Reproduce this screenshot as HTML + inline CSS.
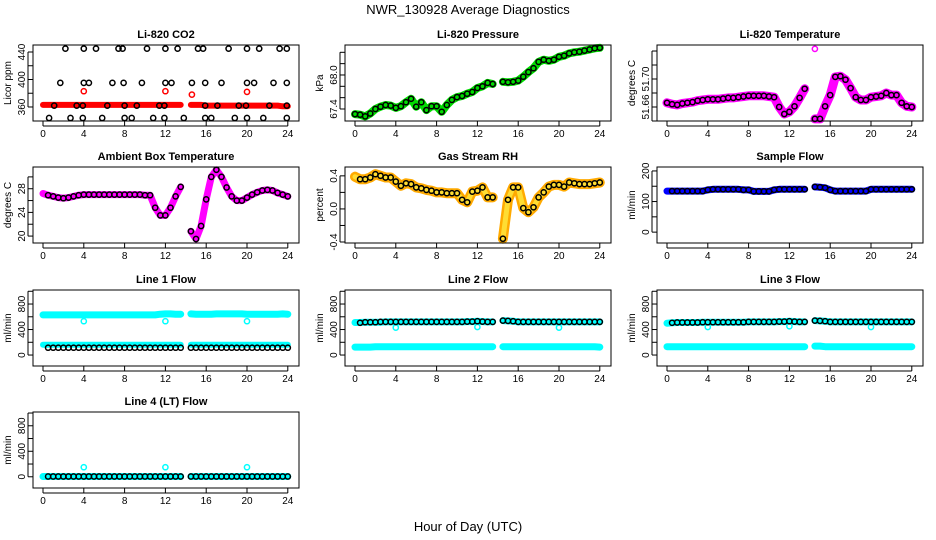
<!DOCTYPE html>
<html><head><meta charset="utf-8"><style>
html,body{margin:0;padding:0;background:#fff}
svg{display:block;font-family:"Liberation Sans",sans-serif}
</style></head><body>
<svg id="chart" width="936" height="540" viewBox="0 0 936 540" xmlns="http://www.w3.org/2000/svg">
<text x="468" y="14" text-anchor="middle" font-size="13">NWR_130928  Average Diagnostics</text>
<text x="468" y="531" text-anchor="middle" font-size="13">Hour of Day (UTC)</text>
</svg>
<script>
const H=[0,0.5,1,1.5,2,2.5,3,3.5,4,4.5,5,5.5,6,6.5,7,7.5,8,8.5,9,9.5,10,10.5,11,11.5,12,12.5,13,13.5,14,14.5,15,15.5,16,16.5,17,17.5,18,18.5,19,19.5,20,20.5,21,21.5,22,22.5,23,23.5,24];
const xTicks=[0,4,8,12,16,20,24];
// CO2
const co2Red=[363,363,363,363,363,363,363,363,363,363,363,363,363,363,363,363,363,363,363,363,363,363,363,363,363,363,363,363,null,363,363,363,362,362,362,362,362,362,362,362,362,362,362,362,362,362,362,361,361];
const co2RedOutH=[4,12,14.6,20];
const co2RedOutV=[383,383,378,382];
const co2BlkH=[2.2,4.0,5.2,7.4,7.8,10.2,12.0,13.2,15.2,15.7,18.2,20.0,21.2,23.2,23.9, 1.7,4.0,4.5,6.8,7.9,9.7,12.0,12.6,14.6,15.9,17.5,20.0,20.7,22.6,23.9, 1.1,3.3,3.9,6.3,8.0,9.2,11.4,11.9,15.9,17.1,19.2,19.9,22.2,23.9, 0.6,2.7,3.9,5.8,8.0,8.7,10.8,11.9,13.8,15.9,16.5,18.8,20.0,21.6,23.9];
const co2BlkV=[445,445,445,445,445,445,445,445,445,445,445,445,445,445,445, 395,395,395,395,395,395,395,395,395,395,395,395,395,395,395, 362,362,362,362,362,362,362,362,362,362,362,362,362,362, 344,344,344,344,344,344,344,344,344,344,344,344,344,344,344];
// Pressure
const pres=[67.31,67.30,67.27,67.32,67.40,67.44,67.47,67.46,67.42,67.45,67.52,67.58,67.44,67.52,67.38,67.45,67.45,67.35,67.47,67.56,67.61,67.63,67.67,67.70,67.77,67.80,67.86,67.84,null,67.88,67.87,67.88,67.90,67.97,68.05,68.12,68.23,68.27,68.25,68.27,68.32,68.34,68.38,68.40,68.41,68.43,68.45,68.47,68.48];
// Li-820 temperature
const ltemp=[51.666,51.664,51.663,51.665,51.666,51.667,51.669,51.670,51.671,51.671,51.671,51.672,51.673,51.673,51.674,51.675,51.676,51.676,51.676,51.676,51.675,51.674,51.660,51.650,51.653,51.661,51.673,51.686,null,51.643,51.643,51.661,51.677,51.703,51.704,51.699,51.687,51.674,51.670,51.670,51.674,51.675,51.676,51.680,51.677,51.677,51.666,51.661,51.660];
const ltempOutH=[14.5];
const ltempOutV=[51.743];
// Ambient box temperature
const amb=[27.2,26.9,26.7,26.5,26.4,26.5,26.7,26.9,27.0,27.0,27.0,27.0,27.0,27.0,27.0,27.0,27.0,27.0,27.0,27.0,26.9,26.9,24.8,23.5,23.5,24.8,26.7,28.3,null,20.8,19.5,21.7,26.2,30.0,31.2,30.0,28.2,26.7,26.0,26.0,26.5,27.0,27.4,27.7,27.8,27.7,27.3,27.0,26.7];
// Gas stream RH
const rh=[0.39,0.36,0.36,0.38,0.42,0.40,0.38,0.38,0.33,0.28,0.31,0.30,0.26,0.25,0.23,0.22,0.20,0.20,0.19,0.19,0.19,0.11,0.08,0.21,0.22,0.26,0.14,0.14,null,-0.36,0.11,0.26,0.26,0.01,-0.04,0.02,0.14,0.20,0.27,0.29,0.29,0.27,0.32,0.31,0.30,0.30,0.30,0.31,0.32];
// Sample flow
const samp=[134,134,134,134,134,134,134,134,138,140,140,140,140,140,140,138,138,133,133,133,133,138,140,140,140,140,140,140,null,148,147,145,138,134,134,134,134,134,134,134,140,140,140,140,140,140,140,140,140];
// Line flows
const l1Hi=[630,630,630,630,630,630,630,630,630,630,630,630,630,630,630,630,630,630,630,630,630,630,630,640,645,645,640,640,null,645,640,640,640,640,645,645,645,645,645,645,640,640,640,640,640,640,640,645,640];
const l1Lo=[160,160,160,160,160,160,160,160,160,160,160,160,160,160,160,160,160,160,160,160,160,160,160,160,160,160,160,160,null,160,160,160,160,160,160,160,160,160,160,160,160,160,160,160,160,160,160,160,160];
const l1Blk=[115,115,115,115,115,115,115,115,115,115,115,115,115,115,115,115,115,115,115,115,115,115,115,115,115,115,115,115,null,115,115,115,115,115,115,115,115,115,115,115,115,115,115,115,115,115,115,115,115];
const l2Hi=[510,510,515,515,515,515,520,520,520,520,520,520,520,520,520,520,520,520,520,520,520,520,525,525,530,525,520,520,null,540,535,530,520,520,520,520,520,520,520,520,520,520,520,520,520,520,520,520,520];
const l2Blk=[null,505,515,515,515,520,520,520,520,520,520,520,520,520,520,520,520,520,520,520,520,520,525,525,530,525,520,520,null,540,535,530,520,520,520,520,520,520,520,520,520,520,520,520,520,520,520,520,520];
const l2Lo=[125,125,125,125,130,130,130,130,130,130,130,130,130,130,130,130,130,130,130,130,130,130,130,130,130,130,130,130,null,130,130,130,130,130,130,130,130,130,130,130,130,130,130,130,130,130,130,130,125];
const l3Hi=[500,505,510,510,510,510,510,515,515,515,515,515,515,515,515,515,520,520,520,520,520,520,525,525,530,525,520,520,null,540,535,530,520,520,520,520,520,520,520,520,520,520,520,520,520,520,520,520,520];
const l3Blk=[null,505,510,510,510,510,510,515,515,515,515,515,515,515,515,515,520,520,520,520,520,520,525,525,530,525,520,520,null,540,535,530,520,520,520,520,520,520,520,520,520,520,520,520,520,520,520,520,520];
const l3Lo=[130,130,130,130,130,130,130,130,130,130,130,130,130,130,130,130,130,130,130,130,130,130,130,130,130,130,130,130,null,140,140,130,130,130,130,130,130,130,130,130,130,130,130,130,130,130,130,130,130];
const l4Cy=[5,5,5,5,5,5,5,5,5,5,5,5,5,5,5,5,5,5,5,5,5,5,5,5,5,5,5,5,null,5,5,5,5,5,5,5,5,5,5,5,5,5,5,5,5,5,5,5,5];
const l4Blk=[null,5,5,5,5,5,5,5,5,5,5,5,5,5,5,5,5,5,5,5,5,5,5,5,5,5,5,5,null,5,5,5,5,5,5,5,5,5,5,5,5,5,5,5,5,5,5,5,5];
const flowOutH=[4,12,20];
const l1OutV=[530,530,530];
const l2OutV=[430,440,430];
const l3OutV=[440,450,440];
const l4OutV=[150,150,150];

const svg=document.getElementById('chart');
const NS='http://www.w3.org/2000/svg';
function mk(tag,attrs,parent){const e=document.createElementNS(NS,tag);for(const k in attrs)e.setAttribute(k,attrs[k]);(parent||svg).appendChild(e);return e;}

const COLX=[43,355,667];
const ROWY=[45,167,290,412];
const BH=76, PXH=10.2;

function panel(o){
  const g=mk('g',{});
  
  
  const x0=COLX[o.col], top=ROWY[o.row], bot=top+BH;
  const left=x0-10, right=x0+256;
  const X=h=>x0+h*PXH;
  const Y=v=>bot-(v-o.ylim[0])/(o.ylim[1]-o.ylim[0])*BH;
  const ttl=mk('text',{x:(left+right)/2,y:top-7,'text-anchor':'middle','font-size':11,'font-weight':'bold'},g);
  ttl.textContent=o.title;
  
  
  const yl=mk('text',{x:0,y:0,'text-anchor':'middle','font-size':10,transform:`translate(${left-22},${(top+bot)/2}) rotate(-90)`},g);
  yl.textContent=o.ylab;
  
  
  // series
  const sg=mk('g',{'clip-path':'none'},g);
  for(const s of o.series){
    if(s.band){
      let seg=[];
      const flush=()=>{if(seg.length){const p=mk('polyline',{points:seg.join(' '),fill:'none',stroke:s.color,'stroke-width':s.w||7,'stroke-linejoin':'round','stroke-linecap':'round'},sg);}seg=[];};
      for(let i=0;i<s.h.length;i++){if(s.v[i]==null){flush();continue;}seg.push(X(s.h[i]).toFixed(1)+','+Y(s.v[i]).toFixed(1));}
      flush();
    } else {
      for(let i=0;i<s.h.length;i++){
        if(s.v[i]==null)continue;
        const c=mk('circle',{cx:X(s.h[i]).toFixed(1),cy:Y(s.v[i]).toFixed(1),r:2.6,fill:'none',stroke:s.color,'stroke-width':1.5},sg);
        
        
      }
    }
  }
  const box=mk('rect',{x:left,y:top,width:right-left,height:BH,fill:'none',stroke:'#000','stroke-width':1},g);
  
  
  // x axis
  for(const t of xTicks){
    mk('line',{x1:X(t),x2:X(t),y1:bot,y2:bot+5,stroke:'#000'},g);
    const tx=mk('text',{x:X(t),y:bot+16,'text-anchor':'middle','font-size':10},g);
    tx.textContent=t;
    
    
  }
  mk('line',{x1:X(0),x2:X(24),y1:bot+5,y2:bot+5,stroke:'#000'},g);
  // y axis
  for(const t of o.yticks){
    mk('line',{x1:left-5,x2:left,y1:Y(t),y2:Y(t),stroke:'#000'},g);
  }
  mk('line',{x1:left-5,x2:left-5,y1:Y(o.yticks[0]),y2:Y(o.yticks[o.yticks.length-1]),stroke:'#000'},g);
  for(const t of o.ylabels){
    const ty=mk('text',{x:0,y:0,'text-anchor':'middle','font-size':10,transform:`translate(${left-8},${Y(t)}) rotate(-90)`},g);
    ty.textContent=o.fmt?o.fmt(t):t;
    
    
  }
}
const Hb=H.slice(1);
panel({name:'co2',title:'Li-820 CO2',ylab:'Licor ppm',col:0,row:0,ylim:[339.6,450.2],yticks:[360,380,400,420,440],ylabels:[360,400,440],
  series:[{name:'co2-red-band',band:true,color:'#ff0000',h:H,v:co2Red,w:6},{name:'co2-red-point',color:'#ff0000',h:co2RedOutH,v:co2RedOutV},{name:'co2-black-point',color:'#000',h:co2BlkH,v:co2BlkV}]});
panel({name:'pressure',title:'Li-820 Pressure',ylab:'kPa',col:1,row:0,ylim:[67.188,68.529],yticks:[67.4,67.6,67.8,68.0,68.2,68.4],ylabels:[67.4,68.0],fmt:t=>t.toFixed(1),
  series:[{name:'pressure-band',band:true,color:'#00dd00',h:H,v:pres,w:8},{name:'pressure-point',color:'#000',h:H,v:pres}]});
panel({name:'li820-temp',title:'Li-820 Temperature',ylab:'degrees C',col:2,row:0,ylim:[51.64,51.7486],yticks:[51.64,51.66,51.68,51.70,51.72,51.74],ylabels:[51.66,51.70],fmt:t=>t.toFixed(2),
  series:[{name:'temp-band',band:true,color:'#ff00ff',h:H,v:ltemp,w:9},{name:'temp-outlier',color:'#ff00ff',h:ltempOutH,v:ltempOutV},{name:'temp-point',color:'#000',h:H,v:ltemp}]});
panel({name:'ambient',title:'Ambient Box Temperature',ylab:'degrees C',col:0,row:1,ylim:[18.83,31.67],yticks:[20,22,24,26,28,30],ylabels:[20,24,28],
  series:[{name:'ambient-band',band:true,color:'#ff00ff',h:H,v:amb,w:7},{name:'ambient-point',color:'#000',h:Hb,v:amb.slice(1)}]});
panel({name:'rh',title:'Gas Stream RH',ylab:'percent',col:1,row:1,ylim:[-0.412,0.507],yticks:[-0.4,-0.2,0,0.2,0.4],ylabels:[-0.4,0,0.4],fmt:t=>t.toFixed(1),
  series:[{name:'rh-band-orange',band:true,color:'#ffaa00',h:H,v:rh,w:10},{name:'rh-band-yellow',band:true,color:'#ffdd33',h:H,v:rh,w:5},{name:'rh-point',color:'#000',h:Hb,v:rh.slice(1)}]});
panel({name:'sample-flow',title:'Sample Flow',ylab:'ml/min',col:2,row:1,ylim:[-35.5,212.9],yticks:[0,50,100,150,200],ylabels:[0,100,200],
  series:[{name:'sample-band',band:true,color:'#0000ff',h:H,v:samp,w:7},{name:'sample-point',color:'#000',h:Hb,v:samp.slice(1)}]});
const fl3=[-172,1020];
const fl4=[-176,1016];
panel({name:'line1',title:'Line 1 Flow',ylab:'ml/min',col:0,row:2,ylim:fl3,yticks:[0,200,400,600,800,1000],ylabels:[0,400,800],
  series:[{name:'line1-cyan-high',band:true,color:'#00ffff',h:H,v:l1Hi,w:7},{name:'line1-cyan-low',band:true,color:'#00ffff',h:H,v:l1Lo,w:6},{name:'line1-cyan-outlier',color:'#00ffff',h:flowOutH,v:l1OutV},{name:'line1-black-point',color:'#000',h:Hb,v:l1Blk.slice(1)}]});
panel({name:'line2',title:'Line 2 Flow',ylab:'ml/min',col:1,row:2,ylim:fl3,yticks:[0,200,400,600,800,1000],ylabels:[0,400,800],
  series:[{name:'line2-cyan-high',band:true,color:'#00ffff',h:H,v:l2Hi,w:7},{name:'line2-cyan-low',band:true,color:'#00ffff',h:H,v:l2Lo,w:7},{name:'line2-cyan-outlier',color:'#00ffff',h:flowOutH,v:l2OutV},{name:'line2-black-point',color:'#000',h:H,v:l2Blk}]});
panel({name:'line3',title:'Line 3 Flow',ylab:'ml/min',col:2,row:2,ylim:fl3,yticks:[0,200,400,600,800,1000],ylabels:[0,400,800],
  series:[{name:'line3-cyan-high',band:true,color:'#00ffff',h:H,v:l3Hi,w:7},{name:'line3-cyan-low',band:true,color:'#00ffff',h:H,v:l3Lo,w:7},{name:'line3-cyan-outlier',color:'#00ffff',h:flowOutH,v:l3OutV},{name:'line3-black-point',color:'#000',h:H,v:l3Blk}]});
panel({name:'line4',title:'Line 4 (LT) Flow',ylab:'ml/min',col:0,row:3,ylim:fl4,yticks:[0,200,400,600,800,1000],ylabels:[0,400,800],
  series:[{name:'line4-cyan',band:true,color:'#00ffff',h:H,v:l4Cy,w:7},{name:'line4-cyan-outlier',color:'#00ffff',h:flowOutH,v:l4OutV},{name:'line4-black-point',color:'#000',h:H,v:l4Blk}]});
</script>
</body></html>
